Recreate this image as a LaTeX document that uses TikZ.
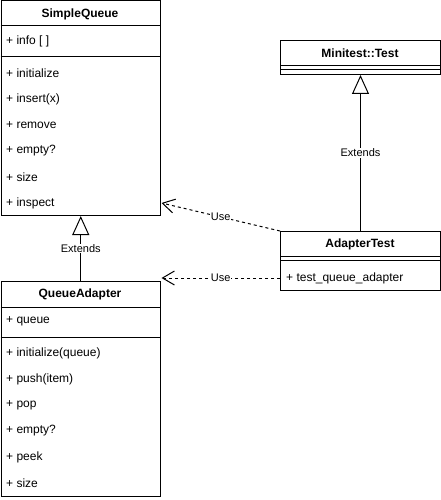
\documentclass[tikz,border=0pt]{standalone}
\usepackage{fontspec}
\setmainfont{Liberation Sans}
\usetikzlibrary{arrows.meta}
\begin{document}
\begin{tikzpicture}[x=1pt,y=-1pt,
  classbox/.style={draw, line width=1pt, inner sep=0pt, anchor=north west, fill=white},
  head/.style={font=\fontsize{12}{14}\selectfont\bfseries, inner sep=0pt},
  item/.style={font=\fontsize{12}{14}\selectfont, anchor=west, inner sep=0pt},
  sep/.style={line width=1pt},
  lbl/.style={font=\fontsize{11}{13}\selectfont, fill=white, inner sep=0.5pt},
  extends/.style={line width=1pt, -{Triangle[open, length=19pt, width=17pt, line width=1pt]}},
  uses/.style={line width=1pt, dash pattern=on 3pt off 3pt, -{Straight Barb[length=12pt, width=14pt, line width=1pt]}}
]
\useasboundingbox (0,0) rectangle (441,500);

% SimpleQueue
\node[classbox, minimum width=159.5pt, minimum height=214.5pt] (sq) at (0.5,0.5) {};
\node[head] (sqh) at (80,14) {SimpleQueue};
\draw[sep] (0.5,26) -- (160,26);
\node[item] (sqa) at (6,41) {+ info [ ]};
\draw[sep] (0.5,57) -- (160,57);
\node[item] (sqm1) at (6,73) {+ initialize};
\node[item] (sqm2) at (6,99) {+ insert(x)};
\node[item] (sqm3) at (6,125) {+ remove};
\node[item] (sqm4) at (6,151) {+ empty?};
\node[item] (sqm5) at (6,177) {+ size};
\node[item] (sqm6) at (6,203) {+ inspect};

% Minitest::Test
\node[classbox, minimum width=160pt, minimum height=34pt] (mt) at (280,40) {};
\node[head] (mth) at (360,53) {Minitest::Test};
\draw[sep] (280,66) -- (440,66);
\draw[sep] (280,70) -- (440,70);

% AdapterTest
\node[classbox, minimum width=160pt, minimum height=59pt] (at) at (280,231) {};
\node[head] (ath) at (360,244) {AdapterTest};
\draw[sep] (280,256) -- (440,256);
\draw[sep] (280,260) -- (440,260);
\node[item] (atm1) at (286,278) {+ test\_queue\_adapter};

% QueueAdapter
\node[classbox, minimum width=159.5pt, minimum height=215pt] (qa) at (0.5,281) {};
\node[head] (qah) at (80,294) {QueueAdapter};
\draw[sep] (0.5,307) -- (160,307);
\node[item] (qaa) at (6,321) {+ queue};
\draw[sep] (0.5,337) -- (160,337);
\node[item] (qam1) at (6,353) {+ initialize(queue)};
\node[item] (qam2) at (6,379) {+ push(item)};
\node[item] (qam3) at (6,405) {+ pop};
\node[item] (qam4) at (6,431) {+ empty?};
\node[item] (qam5) at (6,457) {+ peek};
\node[item] (qam6) at (6,483) {+ size};

% connectors
\draw[extends] (qa.north) -- node[lbl] {Extends} (sq.south);
\draw[extends] (at.north) -- node[lbl] {Extends} (mt.south);
\coordinate (u1) at (161.5,203);
\coordinate (u2) at (161.5,278);
\draw[uses] (at.north west) -- node[lbl] {Use} (u1);
\draw[uses] (at.west |- u2) -- node[lbl] {Use} (u2);
\end{tikzpicture}
\end{document}
